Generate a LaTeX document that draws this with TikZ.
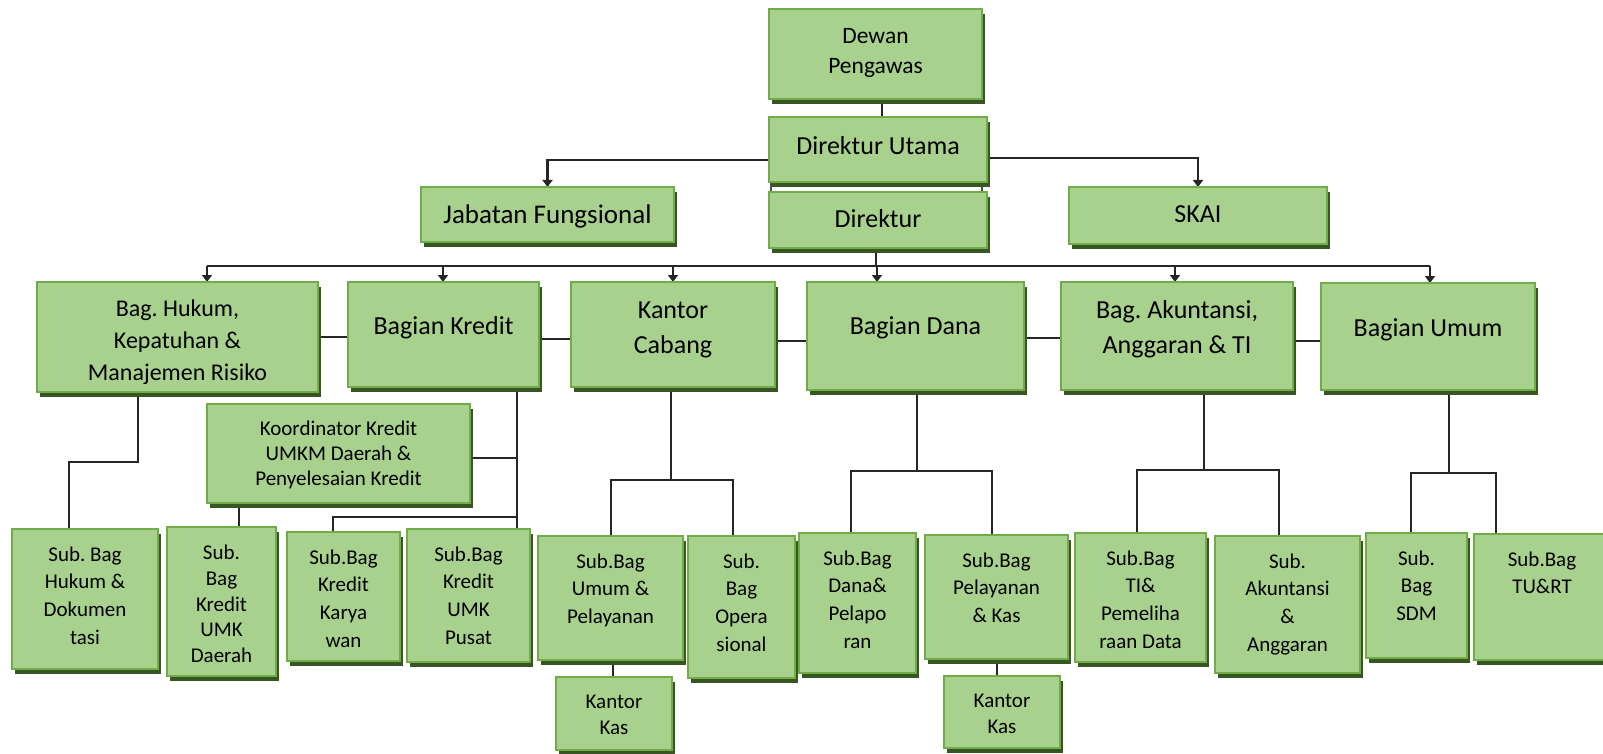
\documentclass[tikz,border=0pt]{standalone}
\usepackage{fontspec}
\setmainfont{Carlito}
\usetikzlibrary{arrows.meta,shadows}
\definecolor{fillc}{HTML}{A9D18E}
\definecolor{bordc}{HTML}{70AD47}
\definecolor{shadc}{HTML}{375623}
\pgfdeclarelayer{bg}
\pgfsetlayers{bg,main}
\frenchspacing
% #1 name, #2 x1, #3 y1, #4 x2, #5 y2, #6 font size, #7 baselineskip, #8 first baseline offset, #9 text
\newcommand\obox[9]{%
  \node[orgbox] (#1) at ({(#2+#4)/2},{(#3+#5)/2})
    {\parbox[c][\dimexpr #5pt-#3pt\relax][t]{\dimexpr #4pt-#2pt\relax}{\centering\frenchspacing\fontsize{#6}{#7}\selectfont\rule{0pt}{#8pt}#9\par}};}
\begin{document}
\begin{tikzpicture}[x=1pt,y=-1pt,
  orgbox/.style={draw=bordc, line width=2pt, fill=fillc, inner sep=0pt, outer sep=0pt,
    drop shadow={shadow xshift=3pt, shadow yshift=-5pt, fill=shadc, opacity=1}},
  conn/.style={draw=black!85, line width=2.6pt},
  arr/.style={conn, -{Triangle[width=10pt,length=7pt]}},
  side/.style={draw=black!70, line width=1.2pt}]
\useasboundingbox (0,0) rectangle (1603,754);
\clip (0,0) rectangle (1603,754);

% top level
\obox{dewan}{769}{9}{982}{99}{23.5}{30}{35}{Dewan\\Pengawas}
\obox{du}{769}{117}{987}{182}{26}{31}{38}{Direktur Utama}
\obox{dir}{769}{192}{987}{248}{26}{31}{36}{Direktur}
\obox{jab}{421}{187}{674}{242}{27}{31}{36}{Jabatan Fungsional}
\obox{skai}{1069}{187}{1327}{244}{26}{31}{36}{SKAI}

% second level
\obox{hukum}{37}{282}{318}{392}{24}{32}{34}{Bag. Hukum,\\Kepatuhan \&\\Manajemen Risiko}
\obox{kredit}{348}{282}{539}{387}{26}{35}{52}{Bagian Kredit}
\obox{cabang}{571}{282}{775}{387}{26}{35}{36}{Kantor\\Cabang}
\obox{dana}{807}{282}{1024}{390}{26}{35}{52}{Bagian Dana}
\obox{akun}{1061}{282}{1293}{390}{26}{35}{36}{Bag. Akuntansi,\\Anggaran \& TI}
\obox{umum}{1321}{283}{1535}{390}{26}{35}{53}{Bagian Umum}

\obox{koord}{207}{404}{470}{503}{21}{25}{31.5}{Koordinator Kredit\\UMKM Daerah \&\\Penyelesaian Kredit}

% third level
\obox{subhukum}{12}{529}{158}{669}{21}{27.7}{32}{Sub. Bag\\Hukum \&\\Dokumen\\tasi}
\obox{daerah}{167}{527}{276}{676}{21}{25.8}{32.5}{Sub.\\Bag\\Kredit\\UMK\\Daerah}
\obox{karyawan}{287}{532}{400}{661}{21}{27.7}{32}{Sub.Bag\\Kredit\\Karya\\wan}
\obox{pusat}{407}{529}{530}{662}{21}{27.7}{32}{Sub.Bag\\Kredit\\UMK\\Pusat}
\obox{umumpel}{538}{536}{683}{660}{21}{27.7}{32}{Sub.Bag\\Umum \&\\Pelayanan}
\obox{oper}{688}{536}{795}{678}{21}{27.7}{32}{Sub.\\Bag\\Opera\\sional}
\obox{danapel}{799}{533}{916}{673}{21}{27.7}{32}{Sub.Bag\\Dana\&\\Pelapo\\ran}
\obox{pelkas}{925}{535}{1068}{659}{21}{27.7}{32}{Sub.Bag\\Pelayanan\\\& Kas}
\obox{tipem}{1075}{533}{1206}{662}{21}{27.7}{32}{Sub.Bag\\TI\&\\Pemeliha\\raan Data}
\obox{akunang}{1215}{536}{1360}{673}{21}{27.7}{32}{Sub.\\Akuntansi\\\&\\Anggaran}
\obox{sdm}{1366}{533}{1467}{658}{21}{27.7}{32}{Sub.\\Bag\\SDM}
\obox{tu}{1474}{534}{1610}{660}{21}{27.7}{32}{Sub.Bag\\TU\&RT}

\obox{kas1}{556}{677}{672}{750}{21}{26}{31.5}{Kantor\\Kas}
\obox{kas2}{944}{676}{1060}{748}{21}{26}{31.5}{Kantor\\Kas}

\begin{pgfonlayer}{bg}
% top connectors
\draw[conn] (dewan.south -| 882,0) -- (du.north -| 882,0);
\draw[arr] (du.west |- 0,160) -| (jab.north);
\draw[arr] (du.east |- 0,158) -| (skai.north);
\draw[side] ([xshift=2pt]du.south west) -- ([xshift=2pt]dir.north west);
\draw[side] ([xshift=-5pt]du.south east) -- ([xshift=-5pt]dir.north east);

% bus
\coordinate (bus) at (876,266);
\coordinate (b1) at (207,266);
\coordinate (b2) at (443,266);
\coordinate (b3) at (673,266);
\coordinate (b4) at (877,266);
\coordinate (b5) at (1175,266);
\coordinate (b6) at (1430,266);
\draw[conn] (dir.south -| bus) -- (bus);
\draw[conn] (b1) -- (b6);
\foreach \b/\n in {b1/hukum,b2/kredit,b3/cabang,b4/dana,b5/akun,b6/umum}
  \draw[arr] (\b) -- (\b |- \n.north);

% second level links
\draw[conn] (hukum.east |- 0,337) -- (kredit.west |- 0,337);
\draw[conn] (kredit.east |- 0,339) -- (cabang.west |- 0,339);
\draw[conn] (cabang.east |- 0,341) -- (dana.west |- 0,341);
\draw[conn] (dana.east |- 0,338) -- (akun.west |- 0,338);
\draw[conn] (akun.east |- 0,341) -- (umum.west |- 0,341);

% hukum
\draw[conn] (hukum.south -| 138,0) |- (69,462) -- (subhukum.north -| 69,0);
% kredit
\draw[conn] (kredit.south -| 517,0) -- (pusat.north -| 517,0);
\draw[conn] (koord.east |- 0,458) -- (517,458);
\draw[conn] (517,517) -| (karyawan.north -| 333,0);
\draw[conn] (koord.south -| 239,0) -- (daerah.north -| 239,0);
% cabang
\draw[conn] (cabang.south -| 671,0) -- (671,480);
\draw[conn] (umumpel.north -| 611,0) |- (733,480) -- (oper.north -| 733,0);
\draw[conn] (umumpel.south -| 613,0) -- (kas1.north -| 613,0);
% dana
\draw[conn] (dana.south -| 917,0) -- (917,471);
\draw[conn] (danapel.north -| 851,0) |- (992,471) -- (pelkas.north -| 992,0);
\draw[conn] (pelkas.south -| 997,0) -- (kas2.north -| 997,0);
% akuntansi
\draw[conn] (akun.south -| 1204,0) -- (1204,470);
\draw[conn] (tipem.north -| 1137,0) |- (1279,470) -- (akunang.north -| 1279,0);
% umum
\draw[conn] (umum.south -| 1449,0) -- (1449,473);
\draw[conn] (sdm.north -| 1411,0) |- (1496,473) -- (tu.north -| 1496,0);
\end{pgfonlayer}
\end{tikzpicture}
\end{document}
